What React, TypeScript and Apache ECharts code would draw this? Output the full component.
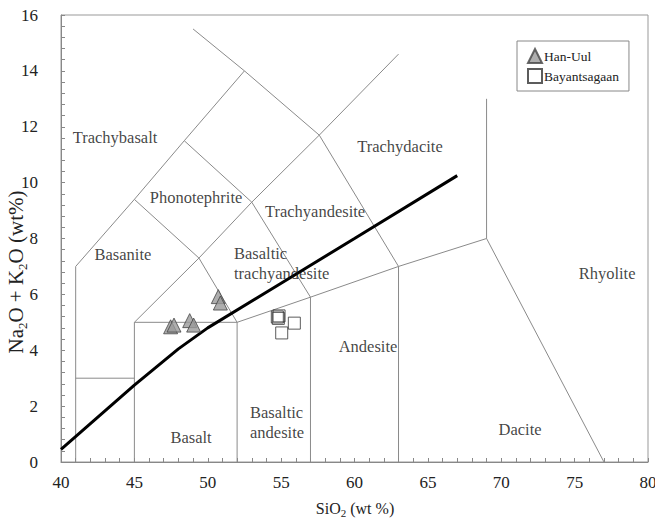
import { useEffect, useRef } from "react";
import * as echarts from "echarts";

const FONT = '"Liberation Serif", "Times New Roman", Times, serif';

// Sample data (SiO2 wt%, Na2O+K2O wt%)
const hanUul: [number, number][] = [
  [47.47, 4.84],
  [47.7, 4.9],
  [48.77, 5.06],
  [49.04, 4.9],
  [50.72, 5.92],
  [50.86, 5.69],
];
const bayantsagaan: [number, number][] = [
  [54.74, 5.19],
  [54.86, 5.23],
  [54.81, 5.14],
  [55.9, 4.97],
  [55.04, 4.62],
];

// Alkaline / subalkaline dividing line
const alkalineDivide: [number, number][] = [
  [40, 0.45],
  [45, 2.75],
  [48, 4.05],
  [50, 4.8],
  [55, 6.4],
  [60, 8.0],
  [67, 10.25],
];

// TAS field boundaries
const boundaries: [number, number][][] = [
  [[41, 0], [41, 7], [45, 9.4], [48.4, 11.5], [52.5, 14]],
  [[49, 15.5], [52.5, 14], [57.6, 11.7], [63, 7]],
  [[41, 3], [45, 3]],
  [[45, 0], [45, 5], [52, 5], [57, 5.9], [63, 7], [69, 8], [69, 13]],
  [[69, 8], [77, 0]],
  [[45, 5], [49.4, 7.3], [53, 9.3], [57.6, 11.7], [63, 14.6]],
  [[45, 9.4], [49.4, 7.3], [52, 5]],
  [[48.4, 11.5], [53, 9.3], [57, 5.9]],
  [[52, 0], [52, 5]],
  [[57, 0], [57, 5.9]],
  [[63, 0], [63, 7]],
];

// Field names and their anchor points
const fieldNames = [
  "Trachybasalt",
  "Phonotephrite",
  "Basanite",
  "Trachyandesite",
  "Trachydacite",
  "Andesite",
  "Basalt",
  "Dacite",
  "Rhyolite",
];
const fieldAnchors: [number, number][] = [
  [43.68, 11.6],
  [49.2, 9.48],
  [44.22, 7.44],
  [57.31, 8.95],
  [63.1, 11.31],
  [60.92, 4.12],
  [48.86, 0.89],
  [71.28, 1.15],
  [77.21, 6.73],
];
// Left-aligned two-line field names
const fieldNamesLeft = ["Basaltic\ntrachyandesite", "Basaltic\nandesite"];
const fieldAnchorsLeft: [number, number][] = [
  [51.79, 7.12],
  [52.88, 1.43],
];

export default function App() {
  const ref = useRef<HTMLDivElement>(null);

  useEffect(() => {
    if (!ref.current) return;
    const chart = echarts.init(ref.current, undefined, { renderer: "svg" });

    const thin = { color: "#8a8a8a", width: 1 };
    const boundarySeries = boundaries.map((poly) => ({
      type: "line",
      data: poly,
      symbol: "none",
      silent: true,
      lineStyle: thin,
      z: 1,
    }));

    const labelStyle = {
      fontFamily: FONT,
      fontSize: 16.5,
      color: "#111",
    };

    chart.setOption({
      animation: false,
      backgroundColor: "#fff",
      grid: {
        left: 61,
        right: 7,
        top: 15,
        bottom: 58,
        show: true,
        borderColor: "#999",
        borderWidth: 1,
        backgroundColor: "transparent",
        outerBoundsMode: "none",
        containLabel: false,
      },
      legend: {
        left: 517,
        top: 41,
        orient: "vertical",
        padding: [7, 10, 7, 10],
        itemGap: 4,
        itemWidth: 14,
        itemHeight: 14,
        borderColor: "#888",
        borderWidth: 1,
        data: ["Han-Uul", "Bayantsagaan"],
        textStyle: { fontFamily: FONT, fontSize: 13.5, color: "#222", padding: [0, 0, 0, -3] },
      },
      xAxis: {
        type: "value",
        min: 40,
        max: 80,
        interval: 5,
        splitLine: { show: false },
        axisLine: { lineStyle: { color: "#888", width: 1 } },
        axisTick: { inside: true, length: 4, lineStyle: { color: "#888" } },
        minorTick: { show: true, splitNumber: 5, length: 4, lineStyle: { color: "#888" } },
        axisLabel: { fontFamily: FONT, fontSize: 17, color: "#222", margin: 12 },
      },
      yAxis: {
        type: "value",
        min: 0,
        max: 16,
        interval: 2,
        splitLine: { show: false },
        axisLine: { lineStyle: { color: "#888", width: 1 } },
        axisTick: { inside: true, length: 4, lineStyle: { color: "#888" } },
        minorTick: { show: true, splitNumber: 5, length: 4, lineStyle: { color: "#888" } },
        axisLabel: { fontFamily: FONT, fontSize: 17, color: "#222", margin: 23 },
      },
      graphic: [
        {
          type: "text",
          x: 16,
          y: 272,
          rotation: Math.PI / 2,
          style: {
            text: "{m|Na}{s|2}{m|O + K}{s|2}{m|O (wt%)}",
            align: "center",
            verticalAlign: "middle",
            fill: "#222",
            rich: {
              m: { fontFamily: FONT, fontSize: 21, lineHeight: 26, fill: "#222" },
              s: { fontFamily: FONT, fontSize: 13, lineHeight: 13, verticalAlign: "bottom", fill: "#222" },
            },
          },
        },
        {
          type: "text",
          x: 355,
          y: 508,
          style: {
            text: "{m|SiO}{s|2}{m| (wt %)}",
            align: "center",
            verticalAlign: "middle",
            fill: "#222",
            rich: {
              m: { fontFamily: FONT, fontSize: 16, lineHeight: 20, fill: "#222" },
              s: { fontFamily: FONT, fontSize: 11, lineHeight: 11, verticalAlign: "bottom", fill: "#222" },
            },
          },
        },
      ],
      series: [
        ...boundarySeries,
        {
          type: "line",
          data: alkalineDivide,
          symbol: "none",
          silent: true,
          lineStyle: { color: "#000", width: 3 },
          z: 2,
        },
        {
          type: "scatter",
          silent: true,
          symbolSize: 0,
          data: fieldNames.map((n, i) => ({ name: n, value: fieldAnchors[i] })),
          label: {
            show: true,
            position: "inside",
            formatter: (p: any) => p.name,
            ...labelStyle,
          },
          z: 3,
        },
        {
          type: "scatter",
          silent: true,
          symbolSize: 0,
          data: fieldNamesLeft.map((n, i) => ({ name: n, value: fieldAnchorsLeft[i] })),
          label: {
            show: true,
            position: "right",
            distance: 0,
            align: "left",
            lineHeight: 20,
            formatter: (p: any) => p.name,
            ...labelStyle,
          },
          z: 3,
        },
        {
          name: "Han-Uul",
          type: "scatter",
          data: hanUul,
          symbol: "triangle",
          symbolSize: [14, 14],
          itemStyle: { color: "#9a9a9a", borderColor: "#444", borderWidth: 1 },
          z: 4,
        },
        {
          name: "Bayantsagaan",
          type: "scatter",
          data: bayantsagaan,
          symbol: "rect",
          symbolSize: 12,
          itemStyle: { color: "rgba(255,255,255,0)", borderColor: "#333", borderWidth: 1 },
          z: 4,
        },
      ],
    });

    return () => chart.dispose();
  }, []);

  return (
    <div
      ref={ref}
      style={{ position: "absolute", left: 0, top: 0, width: 655, height: 520, background: "#fff" }}
    />
  );
}
